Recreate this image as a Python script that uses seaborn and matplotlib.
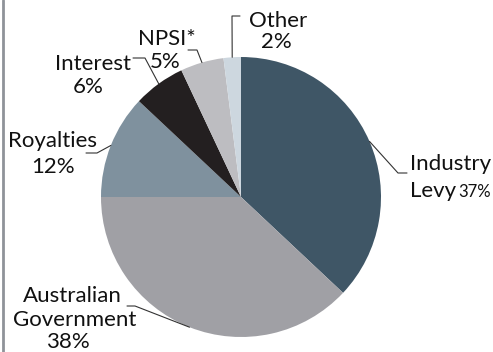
import matplotlib
matplotlib.use("Agg")
import matplotlib.pyplot as plt
import seaborn as sns
import numpy as np
from matplotlib.lines import Line2D

sns.set_theme(style="white")
plt.rcParams['font.family'] = ['Lato', 'DejaVu Sans']

# ---- data ----
categories = ["Industry Levy", "Australian Government", "Royalties", "Interest", "NPSI*", "Other"]
shares = [37, 38, 12, 6, 5, 2]
colors = ["#3f5666", "#a0a0a5", "#7f919e", "#231f20", "#bdbdc1", "#cdd7df"]

W, H = 493, 352
fig = plt.figure(figsize=(W / 100, H / 100), dpi=100)
fig.patch.set_facecolor("white")

cx, cy, R = 241, 197, 140
ax = fig.add_axes([(cx - R) / W, (H - cy - R) / H, 2 * R / W, 2 * R / H])
wedges, _ = ax.pie(shares, colors=colors, startangle=90, counterclock=False,
                   radius=1, wedgeprops=dict(linewidth=0))
ax.set_xlim(-1, 1)
ax.set_ylim(-1, 1)
ax.set_axis_off()

def p2d(px, py):
    return (px - cx) / R, (cy - py) / R

def ftxt(px, py, s, **kw):
    fig.text(px / W, 1 - py / H, s, va="baseline", color="#111111", **kw)

# leader elbows (pixel layout)
elbows = [((398, 173), (407, 173)),
          ((135, 306), (127, 306)),
          ((97, 153), (86, 153)),
          ((145, 58), (133, 58)),
          ((197, 50), (188, 50)),
          ((232, 16), (240, 16))]

for w, (e1, e2) in zip(wedges, elbows):
    ang = np.deg2rad((w.theta1 + w.theta2) / 2)
    ax_, ay_ = np.cos(ang), np.sin(ang)
    x1, y1 = p2d(*e1)
    x2, y2 = p2d(*e2)
    ax.add_line(Line2D([ax_, x1, x2], [ay_, y1, y2], color="#333333", lw=0.8,
                       clip_on=False))

fs = 16
pct = [f"{v}%" for v in shares]
# Industry Levy
ftxt(410, 170, "Industry", ha="left", fontsize=fs)
ftxt(410, 197, "Levy", ha="left", fontsize=fs)
ftxt(458, 197, pct[0], ha="left", fontsize=12)
# Australian Government
ftxt(72, 302, "Australian", ha="center", fontsize=fs)
ftxt(75, 326, "Government", ha="center", fontsize=fs)
ftxt(68, 348, pct[1], ha="center", fontsize=fs)
# Royalties
ftxt(52, 147, "Royalties", ha="center", fontsize=fs)
ftxt(53, 173, pct[2], ha="center", fontsize=fs)
# Interest
ftxt(93, 70, "Interest", ha="center", fontsize=fs)
ftxt(88, 93, pct[3], ha="center", fontsize=fs)
# NPSI*
ftxt(167, 45, "NPSI*", ha="center", fontsize=fs)
ftxt(165, 68, pct[4], ha="center", fontsize=fs)
# Other
ftxt(278, 27, "Other", ha="center", fontsize=fs)
ftxt(276, 48, pct[5], ha="center", fontsize=fs)

# left frame line
fig.add_artist(Line2D([2.5 / W, 2.5 / W], [0, 1], color="#8f9399", lw=2,
                      transform=fig.transFigure))

fig.savefig("out.png", dpi=100, facecolor="white")
